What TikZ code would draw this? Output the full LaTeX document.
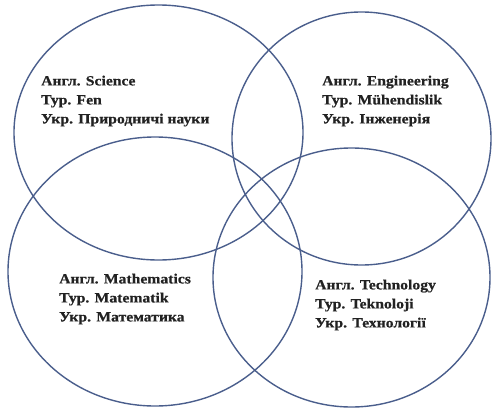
\documentclass[tikz,border=0pt]{standalone}
\usepackage{fontspec}
\setmainfont{Liberation Serif}
\newfontfamily\lblfont{Liberation Serif Bold}[FakeStretch=1.12, FakeBold=0.6]
\usetikzlibrary{positioning}
\definecolor{vennBlue}{HTML}{4A5E8C}
\definecolor{textDark}{HTML}{222222}

\begin{document}
\begin{tikzpicture}[x=1pt, y=1pt,
    ring/.style={draw=vennBlue, line width=1.4pt},
    lbl/.style={anchor=north west, inner sep=0pt, align=left, text=textDark,
      font=\lblfont\fontsize{14}{19}\selectfont}]
  \useasboundingbox (0,0) rectangle (492,408);
    % four overlapping rings
    \draw[ring] (158.5,275.5) ellipse [x radius=144.5, y radius=127.5];
    \draw[ring] (361.5,269.5) ellipse [x radius=129.5, y radius=126.5];
    \draw[ring] (155,136.5) ellipse [x radius=147, y radius=134.5];
    \draw[ring] (351.5,130.5) ellipse [x radius=138.5, y radius=129.5];
    % labels
    \node[lbl] (sci) at (41,332.5) {Англ. Science\\Тур. Fen\\Укр. Природничі науки};
    \node[lbl] (eng) at (322,332.5) {Англ. Engineering\\Тур. Mühendislik\\Укр. Інженерія};
    \node[lbl] (mat) at (59,134.5) {Англ. Mathematics\\Тур. Matematik\\Укр. Математика};
    \node[lbl] (tec) at (315,128.5) {Англ. Technology\\Тур. Teknoloji\\Укр. Технології};
  \end{tikzpicture}
\end{document}
